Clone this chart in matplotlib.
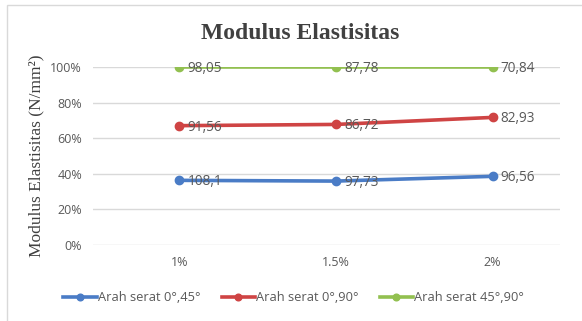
import matplotlib
matplotlib.use('Agg')
import matplotlib.pyplot as plt
import numpy as np

# data (100% stacked line, labels show raw values)
kategori = ['1%', '1.5%', '2%']
seri_nama = ['Arah serat 0°,45°', 'Arah serat 0°,90°', 'Arah serat 45°,90°']
seri_045 = [108.1, 97.73, 96.56]
seri_090 = [91.56, 86.72, 82.93]
seri_4590 = [98.05, 87.78, 70.84]
label_045 = ['108,1', '97,73', '96,56']
label_090 = ['91,56', '86,72', '82,93']
label_4590 = ['98,05', '87,78', '70,84']

warna = ['#4A7CC6', '#CF4444', '#92C050']

nilai = np.array([seri_045, seri_090, seri_4590])
kumulatif = np.cumsum(nilai, axis=0) / nilai.sum(axis=0) * 100

fig = plt.figure(figsize=(5.82, 3.21), dpi=100)
fig.patch.set_facecolor('white')
# chart border
fig.add_artist(plt.Rectangle((7 / 582, -0.02), 1.0, 1 - 5 / 321 + 0.02,
                             transform=fig.transFigure, fill=False,
                             edgecolor='#D9D9D9', linewidth=1))

ax = fig.add_axes([0.160, 0.237, 0.802, 0.554])
x = np.arange(len(kategori))

labels = [label_045, label_090, label_4590]
for i in range(3):
    ax.plot(x, kumulatif[i], color=warna[i], linewidth=2.6, marker='o',
            markersize=6, label=seri_nama[i], zorder=3)
    for j in range(len(kategori)):
        ax.annotate(labels[i][j], (x[j], kumulatif[i][j]), xytext=(6, -1),
                    textcoords='offset points', ha='left', va='center',
                    fontsize=9.8, color='#595959', family='Open Sans', zorder=4)

ax.set_ylim(0, 100)
ax.set_xlim(-0.55, 2.43)
ax.set_yticks([0, 20, 40, 60, 80, 100])
ax.set_yticklabels(['0%', '20%', '40%', '60%', '80%', '100%'])
ax.set_xticks(x)
ax.set_xticklabels(kategori)
ax.tick_params(length=0, colors='#595959', labelsize=9, pad=8)
for t in ax.get_xticklabels() + ax.get_yticklabels():
    t.set_family('Open Sans')
ax.grid(axis='y', color='#D9D9D9', linewidth=1)
ax.set_axisbelow(True)
for s in ax.spines.values():
    s.set_visible(False)

ax.set_ylabel('Modulus Elastisitas (N/mm²)', family='Liberation Serif',
              fontsize=12.5, color='#404040', labelpad=4)
fig.text(0.515, 0.897, 'Modulus Elastisitas', ha='center', va='center',
         family='Liberation Serif', fontsize=17, fontweight='bold',
         color='#404040')

fig.legend(loc='center', bbox_to_anchor=(0.505, 0.072), ncol=3, frameon=False,
           prop={'family': 'Open Sans', 'size': 9.3}, labelcolor='#595959',
           handlelength=2.6, handletextpad=0.1, columnspacing=1.6,
           markerscale=0.8)

fig.savefig('out.png', dpi=100, facecolor='white')
